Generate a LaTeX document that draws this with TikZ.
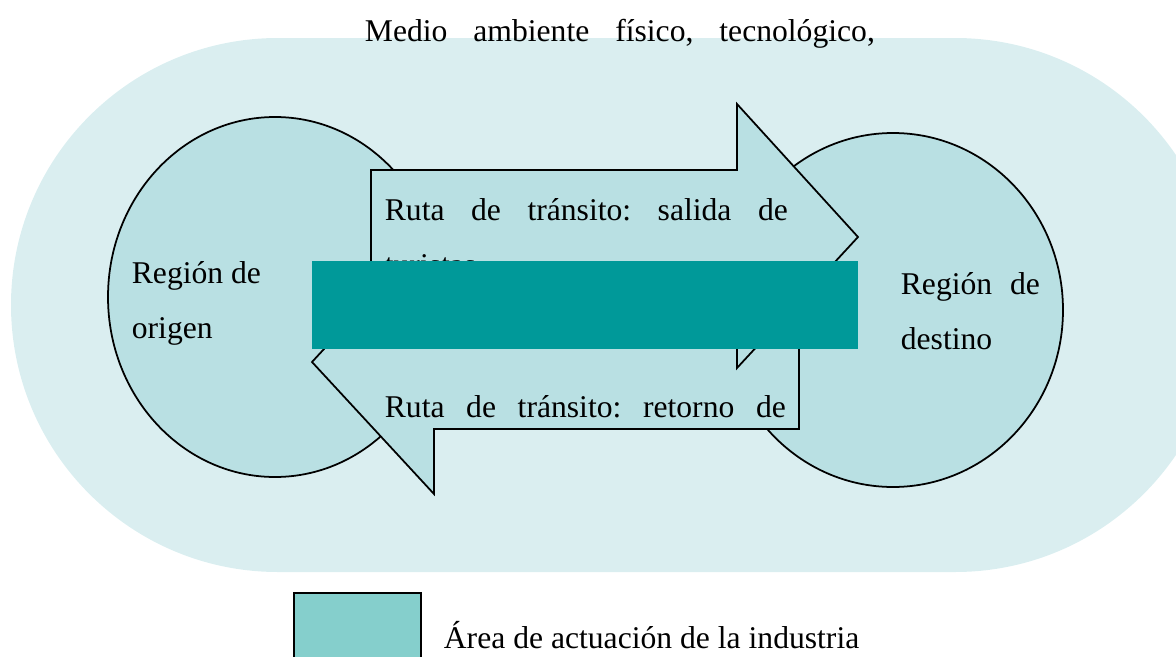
\documentclass[tikz,border=0pt]{standalone}
\usepackage{fontspec}
\setmainfont{Liberation Serif}
\usepackage{tikz}
\usetikzlibrary{shapes.geometric,positioning}
\frenchspacing

\definecolor{envfill}{HTML}{DAEEF0}
\definecolor{regfill}{HTML}{B9E0E3}
\definecolor{teal}{HTML}{009999}
\definecolor{keyfill}{HTML}{85CFCC}

\begin{document}
\begin{tikzpicture}[line width=1pt,
   region/.style={ellipse,draw,fill=regfill},
   route/.style={draw,fill=regfill,line join=miter},
   txt/.style={inner sep=0pt,anchor=base west,font=\fontsize{18}{22}\selectfont}]
   \useasboundingbox (0,0) rectangle (23.52,13.12);
% Here is the environment and the two regions
   \fill[envfill,rounded corners=5.34cm] (0.22,1.68) rectangle (24.44,12.36);
   \node[region,minimum width=6.68cm,minimum height=7.2cm] (origin) at (5.50,7.18) {};
   \node[region,minimum width=6.8cm,minimum height=7.08cm] (dest) at (17.86,6.92) {};
% Here are the two transit routes (return first, outgoing on top)
   \draw[route] (6.24,5.88) -- (8.68,8.52) -- (8.68,7.22) -- (15.98,7.22)
      -- (15.98,4.54) -- (8.68,4.54) -- (8.68,3.24) -- cycle;
   \draw[route] (7.42,9.72) -- (14.74,9.72) -- (14.74,11.04) -- (17.16,8.38)
      -- (14.74,5.76) -- (14.74,7.04) -- (7.42,7.04) -- cycle;
% Here are the texts
   \node[txt] (env) at (7.28,12.28) {\makebox[10.2cm][s]{Medio ambiente físico, tecnológico,}};
   \node[txt] (out1) at (7.68,8.72) {\makebox[8.06cm][s]{Ruta de tránsito: salida de}};
   \node[txt,below=1.1cm of out1.base west,anchor=base west] (out2) {turistas};
   \node[txt] (back1) at (7.68,4.78) {\makebox[8.02cm][s]{Ruta de tránsito: retorno de}};
   \node[txt] (org1) at (2.62,7.46) {Región de};
   \node[txt,below=1.1cm of org1.base west,anchor=base west] (org2) {origen};
   \node[txt] (dst1) at (18.0,7.24) {\makebox[2.78cm][s]{Región de}};
   \node[txt,below=1.1cm of dst1.base west,anchor=base west] (dst2) {destino};
% Here is the industry band and its key
   \fill[teal] (6.24,6.14) rectangle (17.16,7.90);
   \node[draw,fill=keyfill,minimum width=2.54cm,minimum height=3cm,inner sep=0pt,anchor=north west] (key) at (5.86,1.28) {};
   \node[txt] (keytxt) at (8.86,0.16) {Área de actuación de la industria};
\end{tikzpicture}
\end{document}
